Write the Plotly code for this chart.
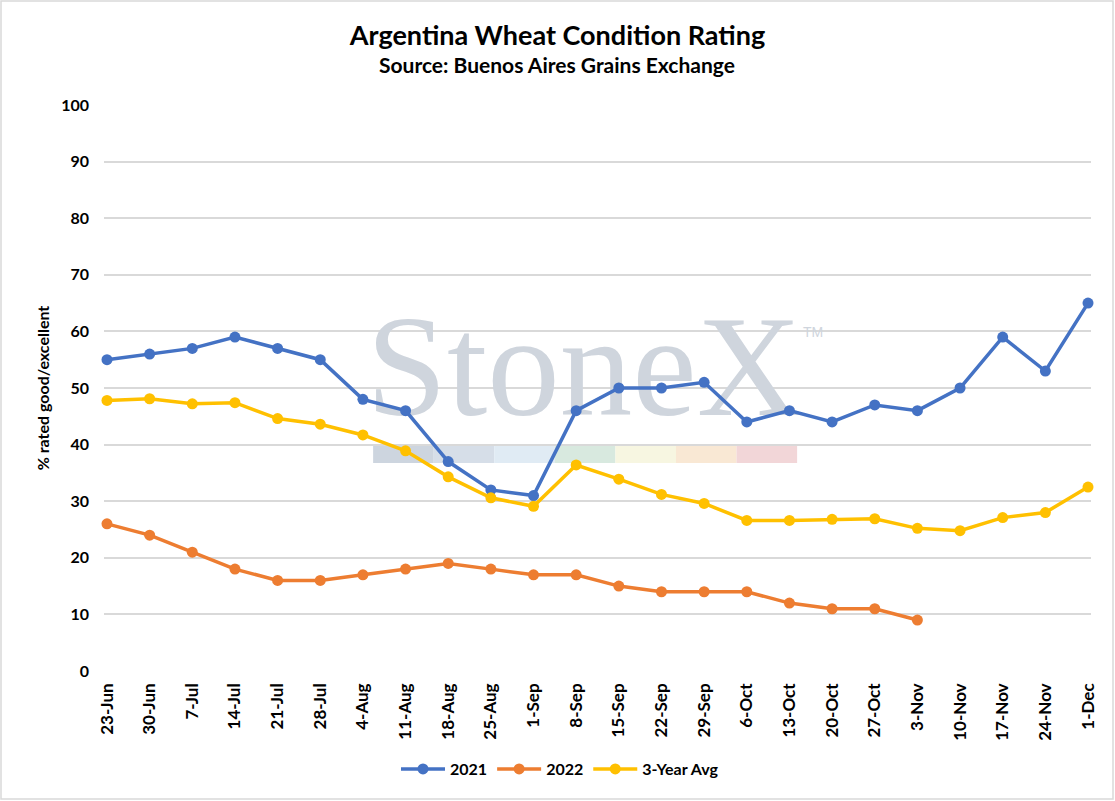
import plotly.graph_objects as go

# weekly report dates (x axis)
dates = ["23-Jun", "30-Jun", "7-Jul", "14-Jul", "21-Jul", "28-Jul", "4-Aug",
         "11-Aug", "18-Aug", "25-Aug", "1-Sep", "8-Sep", "15-Sep", "22-Sep",
         "29-Sep", "6-Oct", "13-Oct", "20-Oct", "27-Oct", "3-Nov", "10-Nov",
         "17-Nov", "24-Nov", "1-Dec"]

# % rated good/excellent
y2021 = [55, 56, 57, 59, 57, 55, 48, 46, 37, 32, 31, 46, 50, 50, 51, 44,
         46, 44, 47, 46, 50, 59, 53, 65]
y2022 = [26, 24, 21, 18, 16, 16, 17, 18, 19, 18, 17, 17, 15, 14, 14, 14,
         12, 11, 11, 9]
avg3y = [47.8, 48.1, 47.2, 47.4, 44.6, 43.6, 41.7, 38.9, 34.3, 30.6, 29.1,
         36.4, 33.9, 31.2, 29.6, 26.6, 26.6, 26.8, 26.9, 25.2, 24.8, 27.1,
         28.0, 32.5]

y_ticks = list(range(0, 101, 10))

FONT = "Lato"
idx = list(range(len(dates)))

fig = go.Figure()

# watermark (drawn first so the lines sit on top of it)
fig.add_trace(go.Scatter(
    x=[11.18], y=[51.7], mode="text", text=["StoneX"],
    textposition="middle center",
    textfont=dict(family="Liberation Serif", size=145, color="#cfd5dd"),
    hoverinfo="skip", showlegend=False
))

series = [
    ("2021", y2021, "#4472C4"),
    ("2022", y2022, "#ED7D31"),
    ("3-Year Avg", avg3y, "#FFC000"),
]
for name, vals, col in series:
    fig.add_trace(go.Scatter(
        x=idx[:len(vals)], y=vals, name=name, mode="lines+markers",
        line=dict(color=col, width=3.5),
        marker=dict(color=col, size=11),
        cliponaxis=False
    ))

# coloured strip under the watermark
strip = ["#cdd5df", "#d6dee8", "#e0ebf4", "#d8e9df", "#f7f6e1", "#f9e8d4", "#f2d6d8"]
x0, seg = 6.24, 1.42
shapes = []
for i, c in enumerate(strip):
    shapes.append(dict(type="rect", xref="x", yref="y",
                       x0=x0 + i * seg, x1=x0 + (i + 1) * seg,
                       y0=36.75, y1=39.75, fillcolor=c,
                       line=dict(width=0), layer="below"))

# thin frame round the whole chart
shapes.append(dict(type="rect", xref="paper", yref="paper",
                   x0=-103 / 987, x1=1009 / 987, y0=-128 / 566, y1=670 / 566,
                   line=dict(color="#d9d9d9", width=1.5)))

fig.update_layout(
    width=1115, height=801,
    margin=dict(l=104, r=24, t=105, b=130),
    paper_bgcolor="white", plot_bgcolor="white",
    font=dict(family=FONT, color="#000000"),
    title=dict(
        text="<b>Argentina Wheat Condition Rating</b>",
        x=0.5, xanchor="center", y=1 - 36 / 801, yanchor="middle",
        font=dict(family=FONT, size=27, color="#000000")
    ),
    xaxis=dict(
        range=[-0.07, len(dates) - 1 + 0.07], automargin=False,
        tickmode="array", tickvals=idx, ticktext=dates,
        tickangle=-90, showgrid=False, zeroline=False, showline=False,
        ticks="", ticklabelstandoff=8,
        tickfont=dict(family=FONT, size=17, color="#000000", weight="bold")
    ),
    yaxis=dict(
        range=[0, 100], tickvals=y_ticks, showgrid=True, gridcolor="#d9d9d9",
        gridwidth=1.5, zeroline=False, showline=False, ticks="", automargin=False,
        ticklabelstandoff=14,
        tickfont=dict(family=FONT, size=16, color="#000000", weight="bold"),
        title=dict(text="<b>% rated good/excellent</b>", standoff=7,
                   font=dict(family=FONT, size=16, color="#000000"))
    ),
    legend=dict(orientation="h", x=(560 - 104) / 987, xanchor="center",
                y=(671 - 769) / 566, yanchor="middle",
                font=dict(family=FONT, size=16, weight="bold"),
                itemwidth=44),
    shapes=shapes,
    annotations=[
        dict(xref="paper", yref="paper", x=(557 - 104) / 987,
             y=(671 - 65) / 566, yanchor="middle", xanchor="center",
             text="<b>Source: Buenos Aires Grains Exchange</b>", showarrow=False,
             font=dict(family=FONT, size=21, color="#000000")),
        dict(xref="paper", yref="paper", x=0.730, y=0.599,
             text="TM", showarrow=False,
             font=dict(family="Liberation Sans", size=14, color="#cfd5dd")),
    ],
)

# the page body has a default 8px margin; drop it so the figure fills the window
fig.write_html("out.html", config={"displayModeBar": False},
               post_script="document.body.style.margin='0';")
